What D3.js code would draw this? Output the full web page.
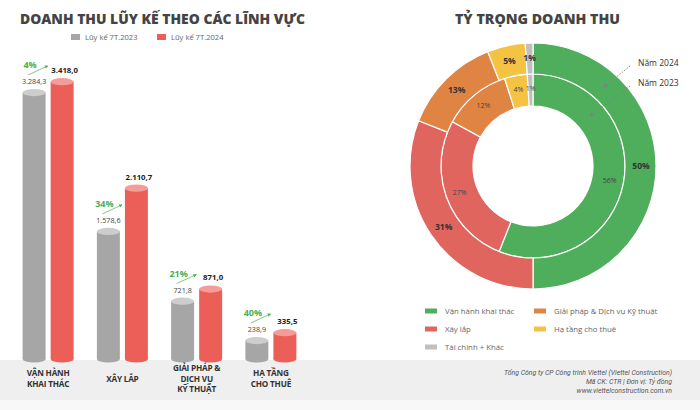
<!DOCTYPE html>
<html><head><meta charset="utf-8">
<script src="https://cdn.jsdelivr.net/npm/d3@7"></script>
<style>
html,body{margin:0;padding:0;background:#fff;}
svg{display:block;font-family:"Open Sans",sans-serif;}
</style></head>
<body><svg id="c" width="700" height="410"></svg>
<script>
// ---------- data ----------
const categories = ["VẬN HÀNH|KHAI THÁC", "XÂY LẮP", "GIẢI PHÁP &|DỊCH VỤ|KỸ THUẬT", "HẠ TẦNG|CHO THUÊ"];
const seriesNames = ["Lũy kế 7T.2023", "Lũy kế 7T.2024"];
const values2023 = [3284.3, 1578.6, 721.8, 238.9];
const values2024 = [3418.0, 2110.7, 871.0, 335.5];
const growthLabels = ["4%", "34%", "21%", "40%"];

const shareCategories = ["Vận hành khai thác", "Xây lắp", "Giải pháp & Dịch vụ Kỹ thuật", "Hạ tầng cho thuê", "Tài chính + Khác"];
const share2024 = [50, 31, 13, 5, 1];
const share2023 = [56, 27, 12, 4, 1];
const legendOrder = ["Vận hành khai thác", "Giải pháp & Dịch vụ Kỹ thuật", "Xây lắp", "Hạ tầng cho thuê", "Tài chính + Khác"];
const footerLines = ["Tổng Công ty CP Công trình Viettel (Viettel Construction)", "Mã CK: CTR  |  Đơn vị: Tỷ đồng", "www.viettelconstruction.com.vn"];

// ---------- setup ----------
const svg = d3.select("#c");
const fmt = v => {
  const s = v.toFixed(1).split(".");
  return s[0].replace(/\B(?=(\d{3})+(?!\d))/g, ".") + "," + s[1];
};
const barColors = {fill: ["#a6a6a6", "#ec5f59"], top: ["#cdcdcd", "#f39c98"]};
const sliceColors = ["#4fae5c", "#e0655f", "#e08443", "#f5c344", "#bfbfbf"];

// marker defs
const defs = svg.append("defs");
defs.append("marker").attr("id", "ag").attr("viewBox", "0 0 10 10").attr("refX", 8).attr("refY", 5)
  .attr("markerWidth", 5).attr("markerHeight", 5).attr("orient", "auto")
  .append("path").attr("d", "M0,0L10,5L0,10z").attr("fill", "#4caf50");
defs.append("marker").attr("id", "ak").attr("viewBox", "0 0 10 10").attr("refX", 8).attr("refY", 5)
  .attr("markerWidth", 5).attr("markerHeight", 5).attr("orient", "auto")
  .append("path").attr("d", "M0,0L10,5L0,10z").attr("fill", "#808080");

// background bands
svg.append("rect").attr("x", 0).attr("y", 360).attr("width", 700).attr("height", 40).attr("fill", "#efefef");
svg.append("rect").attr("x", 0).attr("y", 400).attr("width", 700).attr("height", 10).attr("fill", "#f8f8f8");

// ---------- titles ----------
svg.append("text").attr("x", 20).attr("y", 24).text("DOANH THU LŨY KẾ THEO CÁC LĨNH VỰC")
  .attr("font-size", 14.5).attr("font-weight", 800).attr("fill", "#444")
  .attr("textLength", 285).attr("lengthAdjust", "spacingAndGlyphs");
svg.append("text").attr("x", 455).attr("y", 24).text("TỶ TRỌNG DOANH THU")
  .attr("font-size", 14.5).attr("font-weight", 800).attr("fill", "#444")
  .attr("textLength", 165).attr("lengthAdjust", "spacingAndGlyphs");

// ---------- bar legend ----------
const lgX = [71, 157];
seriesNames.forEach((n, i) => {
  svg.append("rect").attr("x", lgX[i]).attr("y", 34).attr("width", 9).attr("height", 6).attr("fill", barColors.fill[i]);
  svg.append("text").attr("x", lgX[i] + 14).attr("y", 40).text(n).attr("font-size", 7.6).attr("fill", "#666");
});

// ---------- bars ----------
const base = 360;
const x0 = d3.scaleBand().domain(categories).range([11, 308]);
const x1 = d3.scaleBand().domain([0, 1]).range([x0.bandwidth() / 2 - 25.5, x0.bandwidth() / 2 + 25.5]).paddingInner(0.18);
const y = d3.scaleLinear().domain([0, 3500]).range([base, 75]);
const ry = 3.6;

categories.forEach((c, ci) => {
  const g = svg.append("g").attr("transform", `translate(${x0(c)},0)`);
  const vals = [values2023[ci], values2024[ci]];
  vals.forEach((v, si) => {
    const bx = x1(si), bw = x1.bandwidth(), cx = bx + bw / 2, ty = y(v);
    g.append("ellipse").attr("cx", cx).attr("cy", base - 1).attr("rx", bw / 2).attr("ry", ry).attr("fill", barColors.fill[si]);
    g.append("rect").attr("x", bx).attr("y", ty).attr("width", bw).attr("height", base - 1 - ty).attr("fill", barColors.fill[si]);
    g.append("ellipse").attr("cx", cx).attr("cy", ty).attr("rx", bw / 2).attr("ry", ry).attr("fill", barColors.top[si]);
    g.append("text").attr("x", cx + (si ? 2.5 : 0)).attr("y", ty - ry - 5).attr("text-anchor", "middle")
      .text(fmt(v)).attr("font-size", si ? 7.8 : 7.2).attr("font-weight", si ? 700 : 400)
      .attr("fill", si ? "#222" : "#444");
  });
  // growth
  const gTop = y(values2023[ci]) - ry - 5 - 19;
  const gcx = x1(0) + x1.bandwidth() / 2 - 4;
  g.append("text").attr("x", gcx).attr("y", gTop + 3.5).attr("text-anchor", "middle").text(growthLabels[ci])
    .attr("font-size", 9).attr("font-weight", 700).attr("fill", "#4caf50");
  g.append("line").attr("x1", gcx - 2).attr("y1", gTop + 10).attr("x2", x1(1) - 3).attr("y2", gTop + 1)
    .attr("stroke", "#4caf50").attr("stroke-width", 0.7).attr("marker-end", "url(#ag)");
  // category label
  const lines = c.split("|");
  const lh = 10.8;
  const y0 = 381.5 - (lines.length - 1) * lh / 2;
  lines.forEach((l, li) => g.append("text").attr("text-anchor", "middle").attr("font-size", 8.2).attr("font-weight", 700)
    .attr("fill", "#333").attr("letter-spacing", -0.2)
    .attr("x", x0.bandwidth() / 2).attr("y", y0 + li * lh).text(l));
});

// ---------- donut ----------
const cx = 533, cy = 166;
const pie = d3.pie().sort(null).value(d => d);
const arcOuter = d3.arc().innerRadius(92).outerRadius(123);
const arcInner = d3.arc().innerRadius(60).outerRadius(92);
const dg = svg.append("g").attr("transform", `translate(${cx},${cy})`);

[[share2023, arcInner], [share2024, arcOuter]].forEach(([data, arc]) => {
  dg.selectAll(null).data(pie(data)).enter().append("path")
    .attr("d", arc).attr("fill", (d, i) => sliceColors[i]).attr("stroke", "#fff").attr("stroke-width", 1.2);
});
const lblOuter = d3.arc().innerRadius(108).outerRadius(108);
const lblInner = d3.arc().innerRadius(78).outerRadius(78);
dg.selectAll(null).data(pie(share2024)).enter().append("text")
  .attr("transform", d => { const p = lblOuter.centroid(d); return `translate(${p[0]},${p[1] + 3})`; })
  .attr("text-anchor", "middle").attr("font-size", 8.5).attr("font-weight", 700).attr("fill", "#333")
  .text(d => d.data + "%");
dg.selectAll(null).data(pie(share2023)).enter().append("text")
  .attr("transform", d => { const p = lblInner.centroid(d); return `translate(${p[0]},${p[1] + 2.5})`; })
  .attr("text-anchor", "middle").attr("font-size", 7).attr("fill", "#444")
  .text(d => d.data + "%");

// year annotations
[["Năm 2024", 63, 604, 87], ["Năm 2023", 83, 590, 116]].forEach(([t, ty, ax, ay]) => {
  svg.append("text").attr("x", 638).attr("y", ty + 3).text(t).attr("font-size", 8.5).attr("fill", "#333");
  svg.append("line").attr("x1", 630).attr("y1", ty + 3).attr("x2", ax).attr("y2", ay)
    .attr("stroke", "#808080").attr("stroke-width", 0.9).attr("stroke-dasharray", "1.5,1.5").attr("marker-end", "url(#ak)");
});

// donut legend
legendOrder.forEach((n, i) => {
  const col = i % 2, row = Math.floor(i / 2);
  const lx = col ? 534 : 425, ly = 311 + row * 18;
  const ci = shareCategories.indexOf(n);
  svg.append("rect").attr("x", lx).attr("y", ly - 2.5).attr("width", 12).attr("height", 5).attr("fill", sliceColors[ci]);
  svg.append("text").attr("x", lx + 20).attr("y", ly + 2.8).text(n).attr("font-size", 7.8).attr("fill", "#666");
});

// footer
footerLines.forEach((l, i) => {
  svg.append("text").attr("x", 672).attr("y", 374.5 + i * 9).attr("text-anchor", "end").text(l)
    .attr("font-size", 6.9).attr("font-style", "italic").attr("fill", "#555").attr("font-family", "Roboto, sans-serif");
});
</script></body></html>
